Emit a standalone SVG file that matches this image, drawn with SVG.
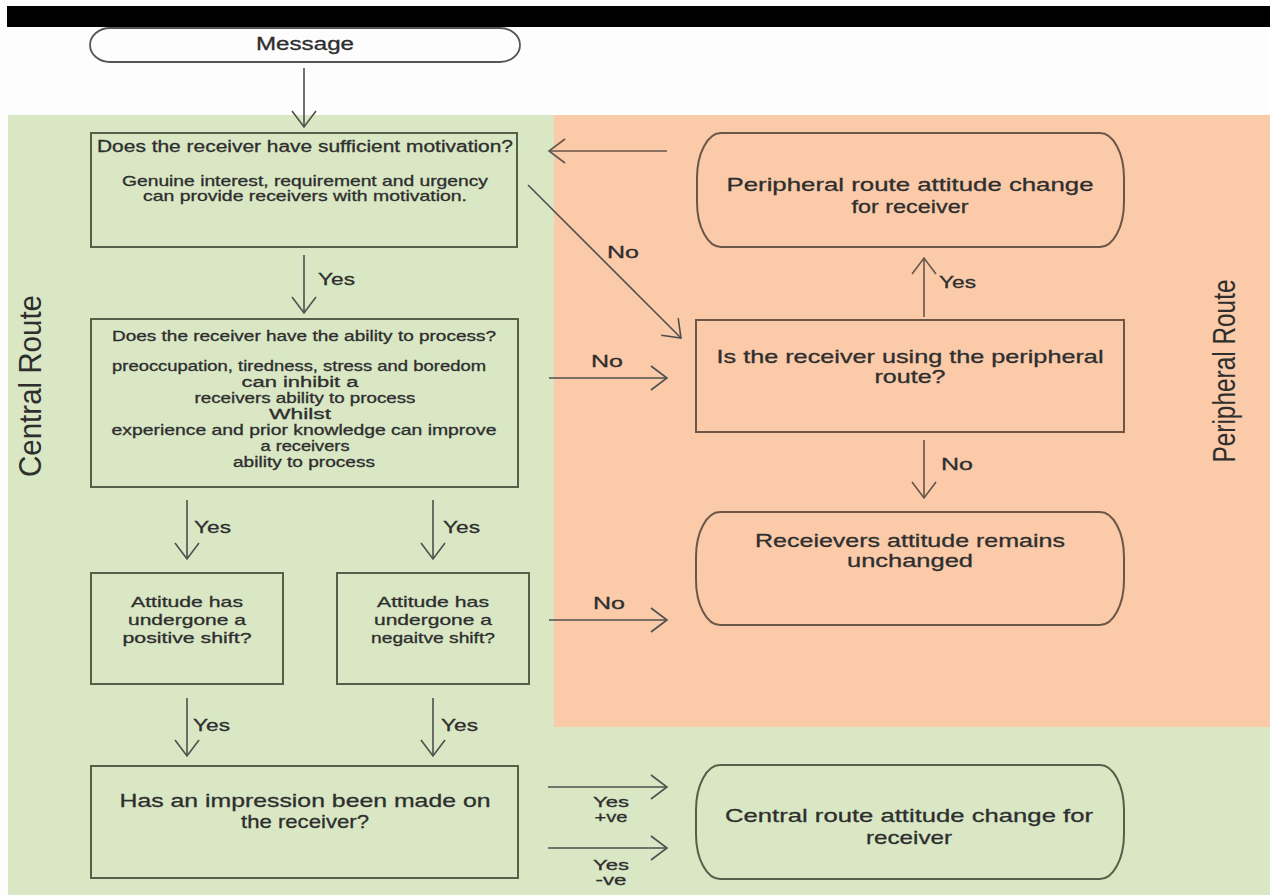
<svg xmlns="http://www.w3.org/2000/svg" width="1270" height="895" viewBox="0 0 1270 895">
<defs>
<style>
text{font-family:"Liberation Sans",Arial,sans-serif;fill:#2e2e2e;stroke:#2e2e2e;stroke-width:0.3}
.gbox{fill:#d9e7c4;stroke:#55604b;stroke-width:2}
.obox{fill:#facaa9;stroke:#6b5647;stroke-width:2}
.wbox{fill:#fdfdfd;stroke:#555;stroke-width:1.8}
.c{text-anchor:middle}
.gl{stroke:#4f4f4f;stroke-width:1.6;fill:none;marker-end:url(#ag)}
.ol{stroke:#66554a;stroke-width:1.6;fill:none;marker-end:url(#ao)}
.lab{font-size:17px}
.sm{font-size:15px}
.side{font-size:32px;stroke-width:0}
</style>
<marker id="ag" viewBox="-18 -14 20 28" refX="0" refY="0" markerWidth="20" markerHeight="28" markerUnits="userSpaceOnUse" orient="auto">
<path d="M-16,-12 L0,0 L-16,12" fill="none" stroke="#4f4f4f" stroke-width="1.6"/>
</marker>
<marker id="ao" viewBox="-18 -14 20 28" refX="0" refY="0" markerWidth="20" markerHeight="28" markerUnits="userSpaceOnUse" orient="auto">
<path d="M-16,-12 L0,0 L-16,12" fill="none" stroke="#66554a" stroke-width="1.6"/>
</marker>
</defs>

<g id="background">
<rect x="0" y="0" width="1270" height="895" fill="#fdfdfd"/>
<rect x="7" y="6" width="1263" height="21" fill="#000"/>
<rect x="8" y="115" width="1262" height="780" fill="#d9e7c4"/>
<rect x="554" y="115" width="716" height="612" fill="#facaa9"/>
<text class="side" transform="translate(41,386) rotate(-90)" text-anchor="middle" textLength="182" lengthAdjust="spacingAndGlyphs">Central Route</text>
<text class="side" transform="translate(1235,371) rotate(-90)" text-anchor="middle" textLength="183" lengthAdjust="spacingAndGlyphs">Peripheral Route</text>
</g>

<g id="connectors">
<line class="gl" x1="304" y1="68" x2="304" y2="127"/>
<line class="gl" x1="304" y1="255" x2="304" y2="313"/>
<line class="gl" x1="528" y1="185" x2="681" y2="338"/>
<line class="ol" x1="667" y1="151" x2="549" y2="151"/>
<line class="gl" x1="549" y1="378" x2="667" y2="378"/>
<line class="ol" x1="924" y1="317" x2="924" y2="258"/>
<line class="ol" x1="924" y1="440" x2="924" y2="498"/>
<line class="gl" x1="549" y1="620" x2="667" y2="620"/>
<line class="gl" x1="187" y1="500" x2="187" y2="559"/>
<line class="gl" x1="433" y1="500" x2="433" y2="559"/>
<line class="gl" x1="187" y1="698" x2="187" y2="756"/>
<line class="gl" x1="433" y1="698" x2="433" y2="756"/>
<line class="gl" x1="548" y1="787" x2="667" y2="787"/>
<line class="gl" x1="548" y1="848" x2="667" y2="848"/>
<text class="lab" x="318" y="285" textLength="37" lengthAdjust="spacingAndGlyphs">Yes</text>
<text class="lab" x="607" y="258" textLength="32" lengthAdjust="spacingAndGlyphs">No</text>
<text class="lab" x="591" y="367" textLength="32" lengthAdjust="spacingAndGlyphs">No</text>
<text class="lab" x="939" y="288" textLength="37" lengthAdjust="spacingAndGlyphs">Yes</text>
<text class="lab" x="941" y="470" textLength="32" lengthAdjust="spacingAndGlyphs">No</text>
<text class="lab" x="593" y="609" textLength="32" lengthAdjust="spacingAndGlyphs">No</text>
<text class="lab" x="194" y="533" textLength="37" lengthAdjust="spacingAndGlyphs">Yes</text>
<text class="lab" x="443" y="533" textLength="37" lengthAdjust="spacingAndGlyphs">Yes</text>
<text class="lab" x="193" y="731" textLength="37" lengthAdjust="spacingAndGlyphs">Yes</text>
<text class="lab" x="441" y="731" textLength="37" lengthAdjust="spacingAndGlyphs">Yes</text>
<text class="sm c" x="611" y="807" textLength="36" lengthAdjust="spacingAndGlyphs">Yes</text>
<text class="sm c" x="611" y="822" textLength="33" lengthAdjust="spacingAndGlyphs">+ve</text>
<text class="sm c" x="611" y="870" textLength="36" lengthAdjust="spacingAndGlyphs">Yes</text>
<text class="sm c" x="611" y="885" textLength="31" lengthAdjust="spacingAndGlyphs">-ve</text>
</g>

<g id="message">
<rect class="wbox" x="90" y="28" width="430" height="34" rx="20" ry="17"/>
<text class="c" x="305" y="50" font-size="17.5" textLength="98" lengthAdjust="spacingAndGlyphs">Message</text>
</g>

<g id="motivation">
<rect class="gbox" x="91" y="133" width="426" height="114"/>
<text x="97" y="152" font-size="16" textLength="416" lengthAdjust="spacingAndGlyphs">Does the receiver have sufficient motivation?</text>
<text class="c" x="305" y="186" font-size="14.5" textLength="366" lengthAdjust="spacingAndGlyphs">Genuine interest, requirement and urgency</text>
<text class="c" x="305" y="201" font-size="14.5" textLength="324" lengthAdjust="spacingAndGlyphs">can provide receivers with motivation.</text>
</g>

<g id="ability">
<rect class="gbox" x="91" y="319" width="427" height="168"/>
<text class="c" x="304" y="341" font-size="14" textLength="384" lengthAdjust="spacingAndGlyphs">Does the receiver have the ability to process?</text>
<text class="c" x="299" y="371" font-size="14" textLength="374" lengthAdjust="spacingAndGlyphs">preoccupation, tiredness, stress and boredom</text>
<text class="c" x="300" y="387" font-size="14" textLength="117" lengthAdjust="spacingAndGlyphs">can inhibit a</text>
<text class="c" x="305" y="403" font-size="14" textLength="221" lengthAdjust="spacingAndGlyphs">receivers ability to process</text>
<text class="c" x="300" y="419" font-size="14" textLength="62" lengthAdjust="spacingAndGlyphs">Whilst</text>
<text class="c" x="304" y="435" font-size="14" textLength="385" lengthAdjust="spacingAndGlyphs">experience and prior knowledge can improve</text>
<text class="c" x="305" y="451" font-size="14" textLength="89" lengthAdjust="spacingAndGlyphs">a receivers</text>
<text class="c" x="304" y="467" font-size="14" textLength="142" lengthAdjust="spacingAndGlyphs">ability to process</text>
</g>

<g id="positive">
<rect class="gbox" x="91" y="573" width="192" height="111"/>
<text class="c" x="187" y="607" font-size="15" textLength="112" lengthAdjust="spacingAndGlyphs">Attitude has</text>
<text class="c" x="187" y="625" font-size="15" textLength="118" lengthAdjust="spacingAndGlyphs">undergone a</text>
<text class="c" x="187" y="643" font-size="15" textLength="129" lengthAdjust="spacingAndGlyphs">positive shift?</text>
</g>

<g id="negative">
<rect class="gbox" x="337" y="573" width="192" height="111"/>
<text class="c" x="433" y="607" font-size="15" textLength="112" lengthAdjust="spacingAndGlyphs">Attitude has</text>
<text class="c" x="433" y="625" font-size="15" textLength="118" lengthAdjust="spacingAndGlyphs">undergone a</text>
<text class="c" x="433" y="643" font-size="15" textLength="124" lengthAdjust="spacingAndGlyphs">negaitve shift?</text>
</g>

<g id="impression">
<rect class="gbox" x="91" y="766" width="427" height="112"/>
<text class="c" x="305" y="807" font-size="19" textLength="371" lengthAdjust="spacingAndGlyphs">Has an impression been made on</text>
<text class="c" x="305" y="828" font-size="19" textLength="128" lengthAdjust="spacingAndGlyphs">the receiver?</text>
</g>

<g id="peripheral-change">
<rect class="obox" x="697" y="133" width="427" height="114" rx="24" ry="45"/>
<text class="c" x="910" y="191" font-size="19" textLength="367" lengthAdjust="spacingAndGlyphs">Peripheral route attitude change</text>
<text class="c" x="910" y="213" font-size="19" textLength="117" lengthAdjust="spacingAndGlyphs">for receiver</text>
</g>

<g id="using-peripheral">
<rect class="obox" x="696" y="320" width="428" height="112"/>
<text class="c" x="910" y="363" font-size="18.5" textLength="387" lengthAdjust="spacingAndGlyphs">Is the receiver using the peripheral</text>
<text class="c" x="910" y="383" font-size="18.5" textLength="71" lengthAdjust="spacingAndGlyphs">route?</text>
</g>

<g id="unchanged">
<rect class="obox" x="696" y="512" width="428" height="113" rx="24" ry="45"/>
<text class="c" x="910" y="547" font-size="19" textLength="310" lengthAdjust="spacingAndGlyphs">Receievers attitude remains</text>
<text class="c" x="910" y="567" font-size="19" textLength="126" lengthAdjust="spacingAndGlyphs">unchanged</text>
</g>

<g id="central-change">
<rect class="gbox" x="696" y="765" width="428" height="114" rx="24" ry="45"/>
<text class="c" x="909" y="822" font-size="19" textLength="368" lengthAdjust="spacingAndGlyphs">Central route attitude change for</text>
<text class="c" x="909" y="844" font-size="19" textLength="86" lengthAdjust="spacingAndGlyphs">receiver</text>
</g>
</svg>
